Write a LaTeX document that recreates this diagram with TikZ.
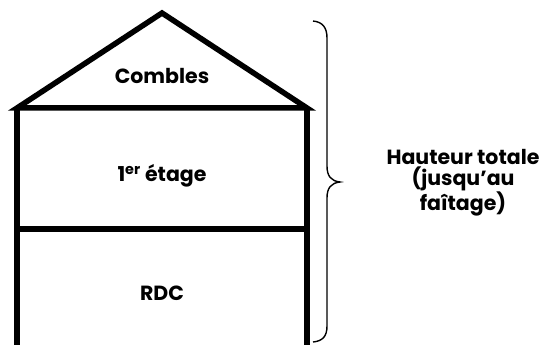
\documentclass[tikz,border=0pt]{standalone}
\usepackage{fontspec}
\setmainfont{Poppins}
\begin{document}
\begin{tikzpicture}[x=1pt,y=-1pt,
  wall/.style={line width=5.5pt,line join=miter,line cap=butt},
  bracestyle/.style={line width=1.4pt},
  lbl/.style={font=\fontsize{20.5}{21}\selectfont\bfseries,align=center,inner sep=0pt}]
\useasboundingbox (0,0) rectangle (547,345);
\coordinate (L) at (17,108);
\coordinate (R) at (307,108);
\coordinate (A) at (162,13);
\coordinate (M1) at (17,229);
\coordinate (M2) at (307,229);
\coordinate (B1) at (17,347);
\coordinate (B2) at (307,347);
\draw[wall] (L) -- (A) -- (R) -- cycle;
\draw[wall] (B1) -- (L) (R) -- (B2);
\draw[wall] (M1) -- (M2);
\node[lbl] (combles) at (162,76) {Combles};
\node[lbl] (etage) at (162,176) {1\textsuperscript{er} étage};
\node[lbl] (rdc) at (162,293) {RDC};
\draw[bracestyle] (313,21) .. controls (323,22) and (327,28) .. (327,38)
  -- (327,166) .. controls (327,176) and (331,181) .. (340,182)
  .. controls (331,183) and (327,188) .. (327,198)
  -- (327,326) .. controls (327,336) and (323,341) .. (313,342);
\node[lbl] (haut) at (463,183) {Hauteur totale\\(jusqu’au\\faîtage)};
\end{tikzpicture}
\end{document}
